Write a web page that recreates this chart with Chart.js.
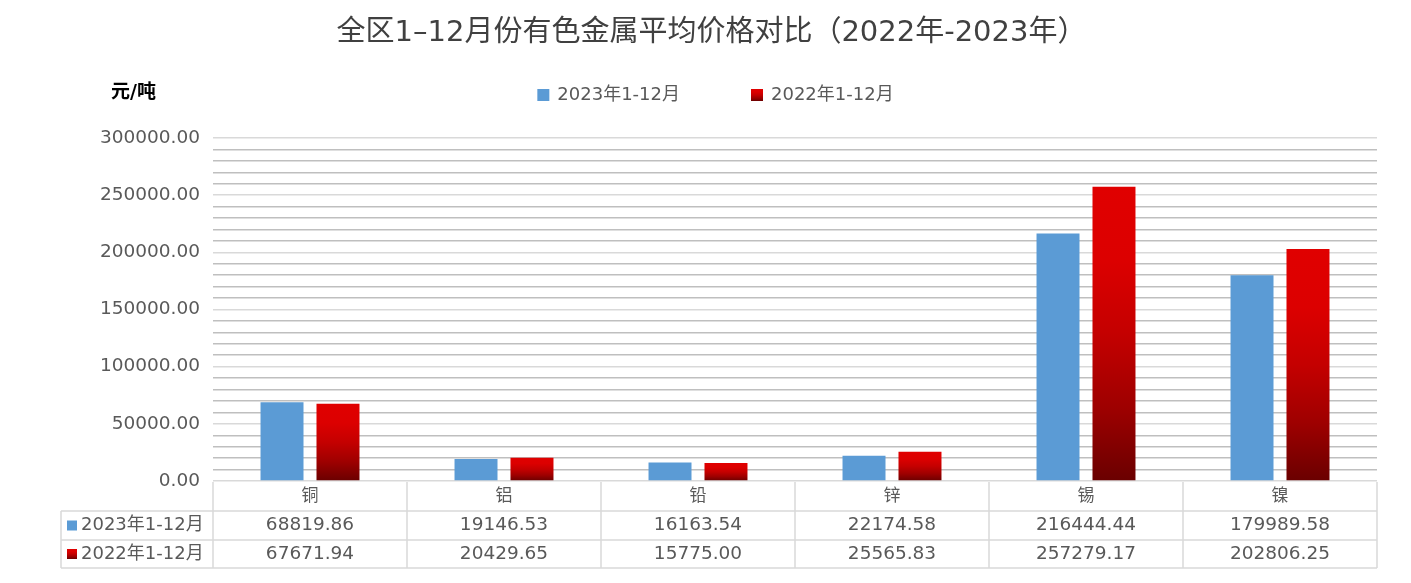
<!DOCTYPE html>
<html>
<head>
<meta charset="utf-8">
<title>全区1-12月份有色金属平均价格对比</title>
<script src="https://cdn.jsdelivr.net/npm/chart.js@4.4.1/dist/chart.umd.min.js"></script>
<style>
    html, body { margin: 0; padding: 0; background: #fff; }
    #wrap { width: 1411px; height: 583px; position: relative; }
</style>
</head>
<body>
<div id="wrap"><canvas id="priceChart"></canvas></div>
<script>
// chart data
const metals = ['铜', '铝', '铅', '锌', '锡', '镍'];
const seriesNames = ['2023年1-12月', '2022年1-12月'];
const prices2023 = [68819.86, 19146.53, 16163.54, 22174.58, 216444.44, 179989.58];
const prices2022 = [67671.94, 20429.65, 15775.00, 25565.83, 257279.17, 202806.25];
const yMax = 300000;
const yStep = 10000;
const yLabelStep = 50000;

const chartTitle = '全区1–12月份有色金属平均价格对比（2022年-2023年）';
const unitLabel = '元/吨';

const FONT = '"DejaVu Sans", "Noto Sans CJK SC", sans-serif';
const BLUE = '#5b9bd5';
const GRID_MAJOR = '#d9d9d9';
const GRID_MINOR = '#bfbfbf';
const TEXT = '#595959';

function redGradient(ctx, top, bottom) {
    const g = ctx.createLinearGradient(0, top, 0, bottom);
    g.addColorStop(0, '#e00000');
    g.addColorStop(0.25, '#dc0000');
    g.addColorStop(0.5, '#c40000');
    g.addColorStop(0.75, '#9e0000');
    g.addColorStop(1, '#6a0000');
    return g;
}

// title, legend, unit label and the data table under the bars
const decorPlugin = {
    id: 'decor',
    afterDraw(chart) {
        const ctx = chart.ctx;
        const area = chart.chartArea;
        const x = chart.scales.x;
        ctx.save();

        // title
        ctx.fillStyle = '#404040';
        ctx.font = '29px ' + FONT;
        ctx.textAlign = 'center';
        ctx.textBaseline = 'middle';
        ctx.fillText(chartTitle, chart.width / 2 + 6, 33);

        // unit label
        ctx.fillStyle = '#000';
        ctx.font = 'bold 19px ' + FONT;
        ctx.textAlign = 'left';
        ctx.fillText(unitLabel, 111, 93);

        // legend
        ctx.font = '18px ' + FONT;
        const box = 12, boxGap = 8, itemGap = 71;
        const widths = seriesNames.map(s => box + boxGap + ctx.measureText(s).width);
        const total = widths.reduce((a, b) => a + b, 0) + itemGap;
        let lx = chart.width / 2 + 10 - total / 2;
        const ly = 95;
        seriesNames.forEach((s, i) => {
            ctx.fillStyle = i === 0 ? BLUE : redGradient(ctx, ly - box / 2, ly + box / 2);
            ctx.fillRect(lx, ly - box / 2, box, box);
            ctx.fillStyle = TEXT;
            ctx.fillText(s, lx + box + boxGap, ly);
            lx += widths[i] + itemGap;
        });

        // data table
        const rowH = [29, 29, 28];
        const top = area.bottom + 1;
        const rowsY = [top];
        rowH.forEach(h => rowsY.push(rowsY[rowsY.length - 1] + h));
        const colW = (x.right - x.left) / metals.length;
        const tableLeft = 61;

        ctx.strokeStyle = GRID_MAJOR;
        ctx.lineWidth = 1.5;
        ctx.beginPath();
        // vertical lines at category edges
        for (let i = 0; i <= metals.length; i++) {
            const vx = x.left + i * colW;
            ctx.moveTo(vx, top);
            ctx.lineTo(vx, rowsY[3]);
        }
        // left label column
        ctx.moveTo(tableLeft, rowsY[1]);
        ctx.lineTo(tableLeft, rowsY[3]);
        for (let r = 1; r <= 3; r++) {
            ctx.moveTo(tableLeft, rowsY[r]);
            ctx.lineTo(x.right, rowsY[r]);
        }
        ctx.stroke();

        ctx.textAlign = 'center';
        ctx.fillStyle = TEXT;
        ctx.font = '17px ' + FONT;
        metals.forEach((m, i) => {
            ctx.fillText(m, x.getPixelForValue(i), (rowsY[0] + rowsY[1]) / 2);
        });
        ctx.font = '18.5px ' + FONT;
        [prices2023, prices2022].forEach((vals, r) => {
            const cy = (rowsY[r + 1] + rowsY[r + 2]) / 2;
            vals.forEach((v, i) => {
                ctx.fillText(v.toFixed(2), x.getPixelForValue(i), cy);
            });
            // row label with swatch
            ctx.fillStyle = r === 0 ? BLUE : redGradient(ctx, cy - 5, cy + 5);
            ctx.fillRect(67, cy - 5, 10, 10);
            ctx.fillStyle = TEXT;
            ctx.textAlign = 'left';
            ctx.font = '18px ' + FONT;
            ctx.fillText(seriesNames[r], 81, cy);
            ctx.font = '18.5px ' + FONT;
            ctx.textAlign = 'center';
        });

        ctx.restore();
    }
};

const ctx = document.getElementById('priceChart').getContext('2d');
const chart = new Chart(ctx, {
    type: 'bar',
    data: {
        labels: metals,
        datasets: [{
            label: seriesNames[0],
            data: prices2023,
            backgroundColor: BLUE,
            categoryPercentage: 0.577,
            barPercentage: 0.768
        }, {
            label: seriesNames[1],
            data: prices2022,
            backgroundColor: function(c) {
                const ch = c.chart;
                if (!ch.chartArea || c.type !== 'data') return '#c00000';
                const y = ch.scales.y;
                return redGradient(ch.ctx, y.getPixelForValue(c.raw), y.getPixelForValue(0));
            },
            categoryPercentage: 0.577,
            barPercentage: 0.768
        }]
    },
    options: {
        responsive: true,
        maintainAspectRatio: false,
        animation: false,
        layout: {
            padding: { top: 138, right: 34, left: 0, bottom: 0 }
        },
        plugins: {
            legend: { display: false },
            title: { display: false },
            tooltip: { enabled: false }
        },
        scales: {
            x: {
                grid: { display: false },
                border: { display: false },
                ticks: { display: false },
                afterFit: scale => { scale.height = 102; }
            },
            y: {
                min: 0,
                max: yMax,
                border: { display: false },
                grid: {
                    drawTicks: false,
                    lineWidth: 1.5,
                    color: c => (c.tick && c.tick.value % yLabelStep === 0) ? GRID_MAJOR : GRID_MINOR
                },
                ticks: {
                    stepSize: yStep,
                    autoSkip: false,
                    padding: 13,
                    color: TEXT,
                    font: { family: FONT, size: 18.5 },
                    callback: v => v % yLabelStep === 0 ? v.toFixed(2) : ''
                },
                afterFit: scale => { scale.width = 213; }
            }
        }
    },
    plugins: [decorPlugin]
});
</script>
</body>
</html>
